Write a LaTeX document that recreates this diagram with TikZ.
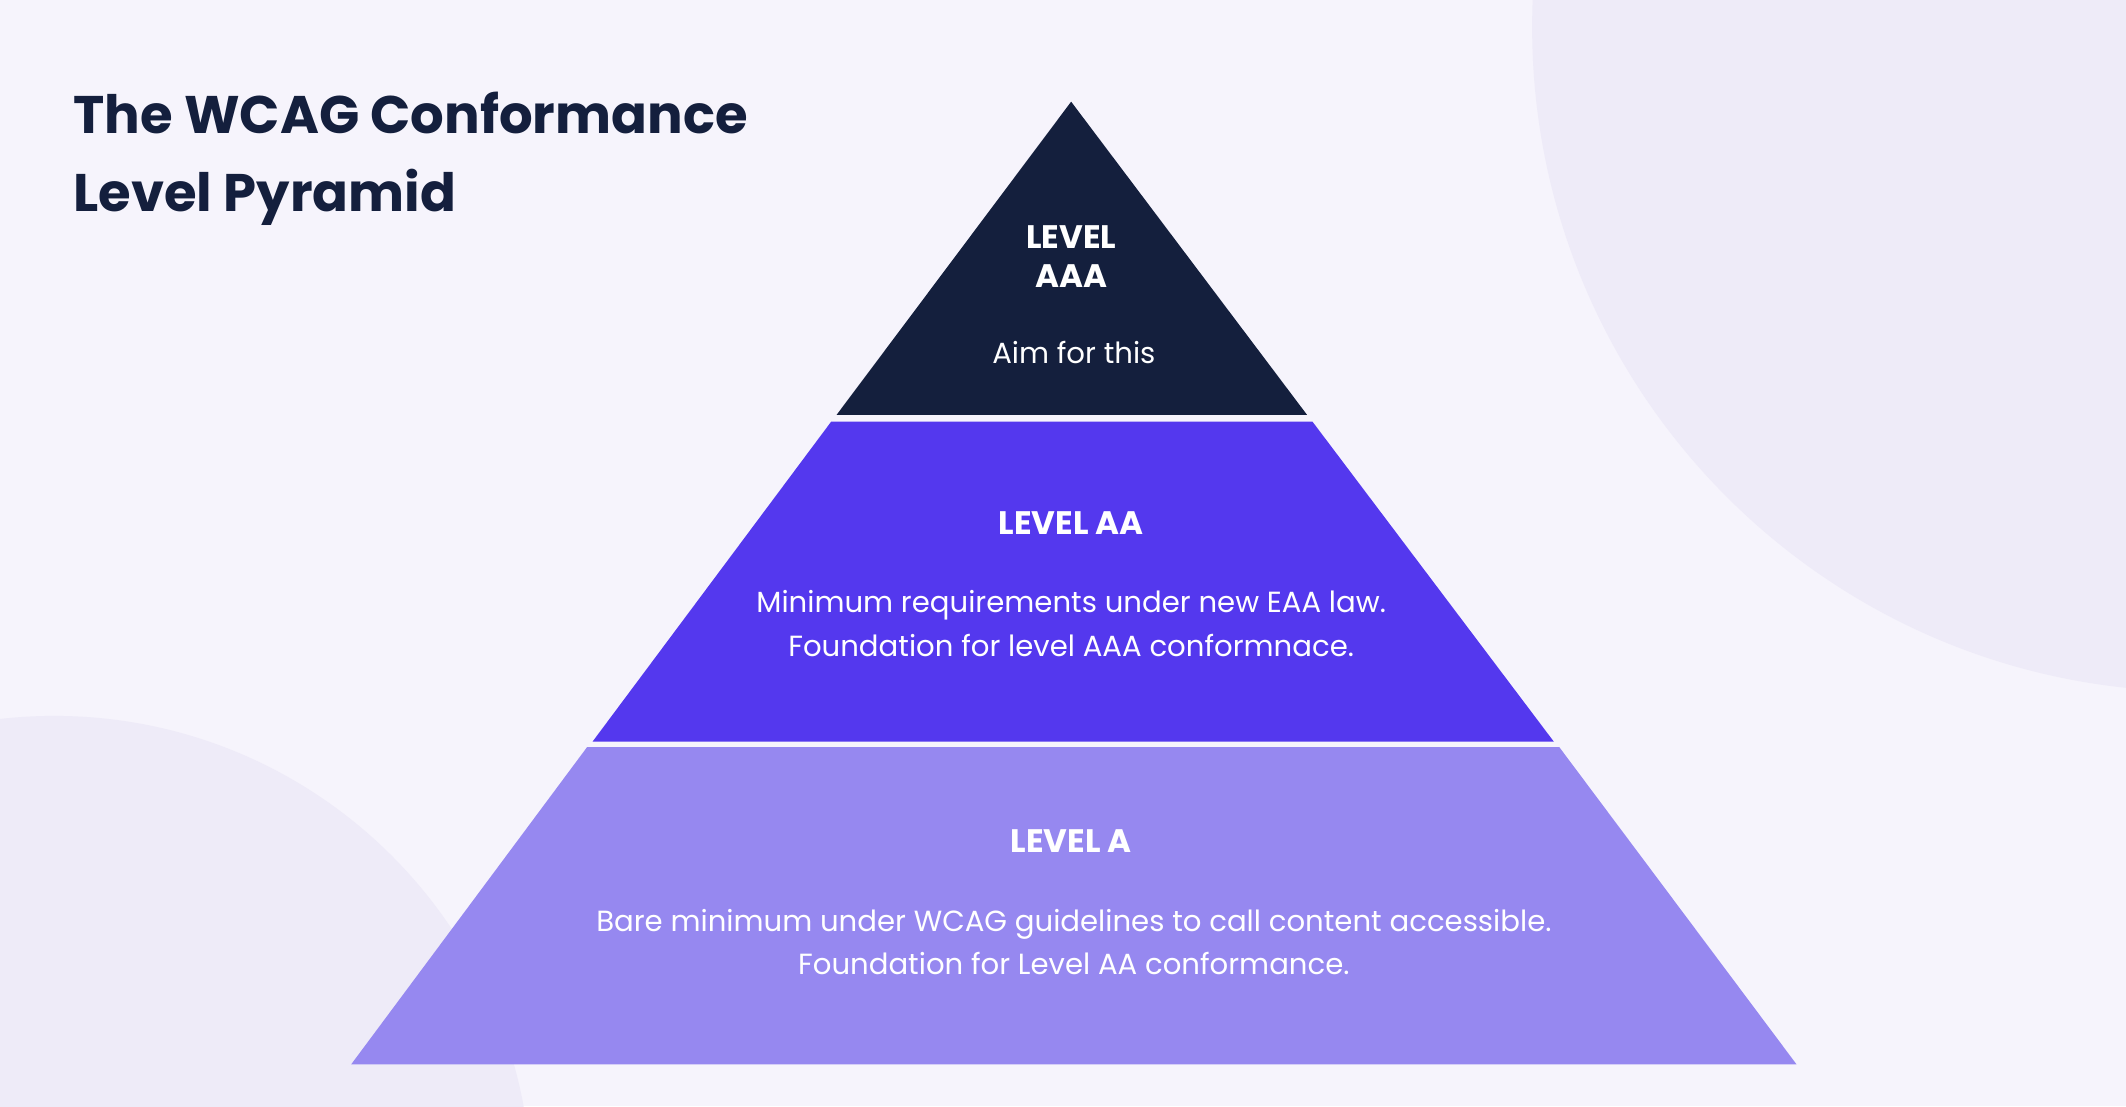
\documentclass[tikz,border=0pt]{standalone}
\usepackage{fontspec}
\setmainfont{Poppins}
\definecolor{bg}{HTML}{F6F4FC}
\definecolor{circ}{HTML}{EEEBF8}
\definecolor{navy}{HTML}{141F3D}
\definecolor{mid}{HTML}{5438EE}
\definecolor{low}{HTML}{9688F0}
\begin{document}
\begin{tikzpicture}[x=1pt,y=-1pt,
  head/.style={text=white,font=\fontsize{24}{29}\selectfont\bfseries,align=center},
  body/.style={text=white,font=\fontsize{21.5}{32}\selectfont,align=center}]
\useasboundingbox (0,0) rectangle (1568,816);
\fill[bg] (0,0) rectangle (1568,816);
\begin{scope}
\clip (0,0) rectangle (1568,816);
\fill[circ] (1620,20) circle (490);
\fill[circ] (40,880) circle (352);
\end{scope}
\node[anchor=north west,inner sep=0pt,text=navy,align=left,font=\fontsize{39}{57}\selectfont\bfseries] (title) at (54,68) {The WCAG Conformance\\Level Pyramid};
\fill[navy] (790,75) -- (964,306) -- (617,306) -- cycle;
\fill[mid] (613,311) -- (968,311) -- (1146,547) -- (437,547) -- cycle;
\fill[low] (433,551) -- (1150,551) -- (1325,785) -- (259,785) -- cycle;
\node[head] (aaa) at (790,189) {LEVEL\\AAA};
\node[body] (aaat) at (792,260) {Aim for this};
\node[head] (aa) at (790,386) {LEVEL AA};
\node[body] (aat) at (790,460) {Minimum requirements under new EAA law.\\Foundation for level AAA conformnace.};
\node[head] (a) at (790,620) {LEVEL A};
\node[body] (at) at (792,695) {Bare minimum under WCAG guidelines to call content accessible.\\Foundation for Level AA conformance.};
\end{tikzpicture}
\end{document}
